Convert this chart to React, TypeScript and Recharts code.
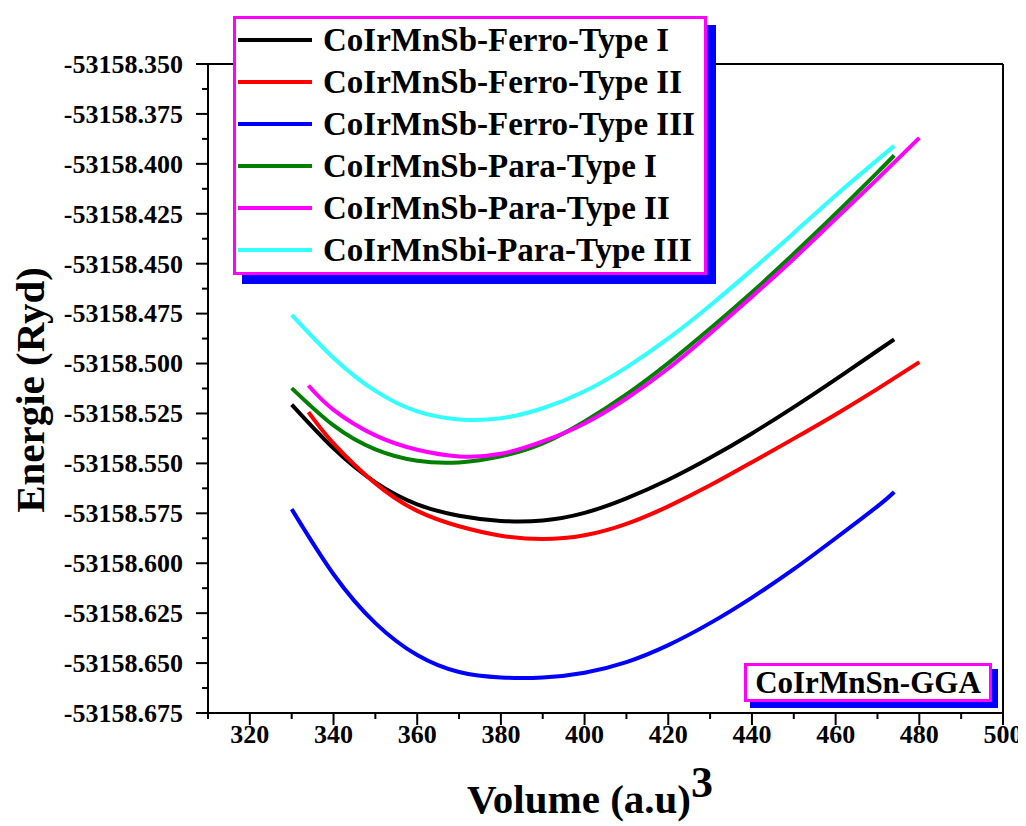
import React from 'react';
import { LineChart, Line, XAxis, YAxis, ReferenceLine, Legend } from 'recharts';

const FONT = "'Liberation Serif', 'Times New Roman', serif";

// volumes (a.u^3) and total energies (Ryd)
const ferro1Vol = [330, 340, 350, 360, 370, 380, 390, 400, 410, 420, 430, 440, 450, 460, 470, 474];
const ferro1E = [-53158.5206, -53158.5425, -53158.5595, -53158.5705, -53158.5762, -53158.5788, -53158.5786, -53158.5748, -53158.5675, -53158.5582, -53158.5472, -53158.535, -53158.5218, -53158.5079, -53158.4936, -53158.4879];

const ferro2Vol = [334, 340, 350, 360, 370, 380, 390, 400, 410, 420, 430, 440, 450, 460, 470, 480];
const ferro2E = [-53158.5243, -53158.54, -53158.56, -53158.5738, -53158.5815, -53158.5862, -53158.5879, -53158.586, -53158.5803, -53158.5715, -53158.561, -53158.5494, -53158.5376, -53158.5255, -53158.5127, -53158.4993];

const ferro3Vol = [330, 340, 350, 360, 370, 380, 390, 400, 410, 420, 430, 440, 450, 460, 470, 474];
const ferro3E = [-53158.5729, -53158.6055, -53158.63, -53158.646, -53158.6545, -53158.6572, -53158.6572, -53158.6548, -53158.6495, -53158.641, -53158.63, -53158.6172, -53158.603, -53158.5875, -53158.5715, -53158.5643];

const para1Vol = [330, 340, 350, 360, 370, 380, 390, 400, 410, 420, 430, 440, 450, 460, 470, 474];
const para1E = [-53158.5123, -53158.531, -53158.543, -53158.5487, -53158.5495, -53158.5465, -53158.54, -53158.529, -53158.5155, -53158.4998, -53158.4825, -53158.4643, -53158.445, -53158.425, -53158.4043, -53158.3958];

const para2Vol = [334, 340, 350, 360, 370, 380, 390, 400, 410, 420, 430, 440, 450, 460, 470, 480];
const para2E = [-53158.511, -53158.5232, -53158.536, -53158.5432, -53158.5465, -53158.5452, -53158.539, -53158.53, -53158.5175, -53158.5025, -53158.485, -53158.4665, -53158.4475, -53158.4275, -53158.4075, -53158.387];

const para3Vol = [330, 340, 350, 360, 370, 380, 390, 400, 410, 420, 430, 440, 450, 460, 470, 474];
const para3E = [-53158.4756, -53158.4972, -53158.5137, -53158.524, -53158.528, -53158.5274, -53158.5224, -53158.5139, -53158.5019, -53158.4874, -53158.4709, -53158.4531, -53158.4346, -53158.4158, -53158.398, -53158.391];

const seriesNames = [
  'CoIrMnSb-Ferro-Type I',
  'CoIrMnSb-Ferro-Type II',
  'CoIrMnSb-Ferro-Type III',
  'CoIrMnSb-Para-Type I',
  'CoIrMnSb-Para-Type II',
  'CoIrMnSbi-Para-Type III',
];
const seriesColors = ['#000000', '#ff0000', '#0000ff', '#008000', '#ff00ff', '#33ffff'];
const seriesVols = [ferro1Vol, ferro2Vol, ferro3Vol, para1Vol, para2Vol, para3Vol];
const seriesEs = [ferro1E, ferro2E, ferro3E, para1E, para2E, para3E];

const xTicks = [310, 320, 330, 340, 350, 360, 370, 380, 390, 400, 410, 420, 430, 440, 450, 460, 470, 480, 490, 500];
const yMajorTicks = [
  -53158.675, -53158.65, -53158.625, -53158.6, -53158.575, -53158.55, -53158.525,
  -53158.5, -53158.475, -53158.45, -53158.425, -53158.4, -53158.375, -53158.35,
];
const yTicks: number[] = [];
yMajorTicks.forEach((t, i) => {
  yTicks.push(t);
  if (i < yMajorTicks.length - 1) yTicks.push((t + yMajorTicks[i + 1]) / 2);
});
const Y_MIN = -53158.675;
const Y_MAX = -53158.35;

const PLOT_LEFT = 200;
const PLOT_BOTTOM = 705;

const series = seriesNames.map((name, i) => ({
  name,
  color: seriesColors[i],
  data: seriesVols[i].map((v, j) => ({ v, e: seriesEs[i][j] })),
}));

function YTick(props: any) {
  const { y, payload } = props;
  const idx = Math.round((payload.value - Y_MIN) / 0.0125);
  const major = idx % 2 === 0;
  return (
    <g>
      <line x1={PLOT_LEFT - (major ? 12 : 6)} x2={PLOT_LEFT} y1={y} y2={y} stroke="#000" strokeWidth={2} />
      {major && (
        <text x={PLOT_LEFT - 25} y={y} dy="0.34em" textAnchor="end" fontFamily={FONT} fontWeight="bold" fontSize={26} fill="#000">
          {payload.value.toFixed(3)}
        </text>
      )}
    </g>
  );
}

function XTick(props: any) {
  const { x, payload } = props;
  const major = (payload.value - 300) % 20 === 0;
  return (
    <g>
      <line x1={x} x2={x} y1={PLOT_BOTTOM} y2={PLOT_BOTTOM + (major ? 12 : 6)} stroke="#000" strokeWidth={2} />
      {major && (
        <text x={x} y={PLOT_BOTTOM + 30} textAnchor="middle" fontFamily={FONT} fontWeight="bold" fontSize={26} fill="#000">
          {payload.value}
        </text>
      )}
    </g>
  );
}

function XTitle() {
  return (
    <text x={582} y={805} textAnchor="middle" fontFamily={FONT} fontWeight="bold" fontSize={41} fill="#000">
      <tspan>Volume (a.u)</tspan>
      <tspan dy={-16} fontSize={44}>3</tspan>
    </text>
  );
}

function YTitle() {
  return (
    <text x={22} y={382} transform="rotate(-90, 22, 382)" textAnchor="middle" dominantBaseline="central" fontFamily={FONT} fontWeight="bold" fontSize={41} fill="#000">
      Energie (Ryd)
    </text>
  );
}

function LegendBox(props: any) {
  const { payload } = props;
  return (
    <div
      style={{
        width: 474,
        height: 259,
        boxSizing: 'border-box',
        border: '3px solid #ff00ff',
        background: '#fff',
        boxShadow: '9px 9px 0 #0000ff',
        fontFamily: FONT,
        fontWeight: 'bold',
        fontSize: 33,
        color: '#000',
      }}
    >
      {(payload || []).map((p: any) => (
        <div key={p.value} style={{ height: 42, display: 'flex', alignItems: 'center', whiteSpace: 'nowrap' }}>
          <div style={{ width: 74, height: 4, marginLeft: 2, marginRight: 11, background: p.color }} />
          <span>{p.value}</span>
        </div>
      ))}
    </div>
  );
}

export default function App() {
  return (
    <div style={{ position: 'relative', width: 1018, height: 816, background: '#fff' }}>
      <LineChart width={1018} height={816} margin={{ top: 56, right: 23, bottom: 6, left: 0 }}>
        <XAxis
          type="number"
          dataKey="v"
          domain={[310, 500]}
          ticks={xTicks}
          interval={0}
          allowDataOverflow
          height={105}
          tickLine={false}
          axisLine={{ stroke: '#000', strokeWidth: 2 }}
          tick={(p: any) => <XTick {...p} />}
          label={{ content: () => <XTitle /> }}
        />
        <YAxis
          type="number"
          domain={[Y_MIN, Y_MAX]}
          ticks={yTicks}
          interval={0}
          allowDataOverflow
          width={200}
          tickLine={false}
          axisLine={{ stroke: '#000', strokeWidth: 2 }}
          tick={(p: any) => <YTick {...p} />}
          label={{ content: () => <YTitle /> }}
        />
        <ReferenceLine y={Y_MAX} stroke="#000" strokeWidth={2} />
        <ReferenceLine x={500} stroke="#000" strokeWidth={2} />
        {series.map((s) => (
          <Line
            key={s.name}
            data={s.data}
            dataKey="e"
            name={s.name}
            type="natural"
            stroke={s.color}
            strokeWidth={4}
            dot={false}
            activeDot={false}
            isAnimationActive={false}
          />
        ))}
        <Legend
          layout="horizontal"
          verticalAlign="middle"
          align="center"
          content={(p: any) => <LegendBox {...p} />}
          wrapperStyle={{ position: 'absolute', left: 225, top: 8, width: 'auto', height: 'auto' }}
        />
      </LineChart>
      <div
        style={{
          position: 'absolute',
          left: 736,
          top: 655,
          width: 248,
          height: 39,
          boxSizing: 'border-box',
          border: '3px solid #ff00ff',
          background: '#fff',
          boxShadow: '6px 6px 0 #0000ff',
          fontFamily: FONT,
          fontWeight: 'bold',
          fontSize: 31,
          lineHeight: '33px',
          textAlign: 'center',
          whiteSpace: 'nowrap',
          color: '#000',
        }}
      >
        CoIrMnSn-GGA
      </div>
    </div>
  );
}
